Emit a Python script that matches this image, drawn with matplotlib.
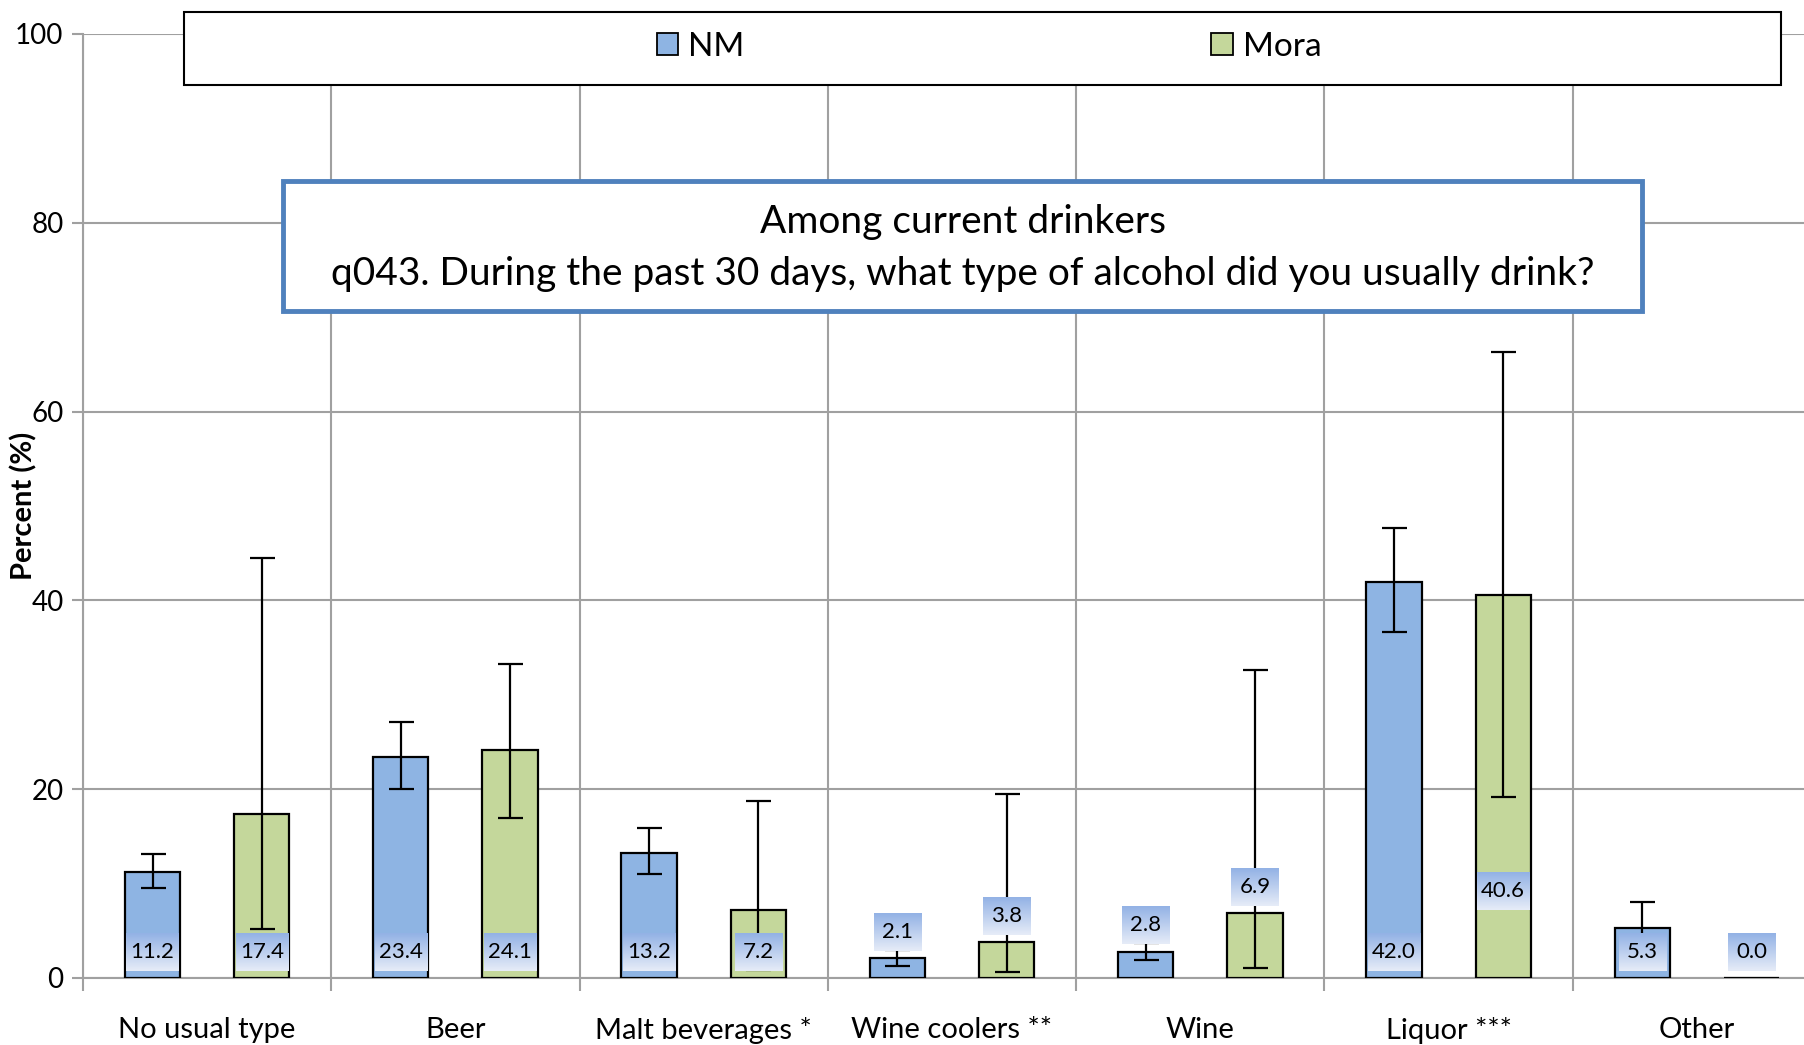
import numpy as np
import matplotlib
matplotlib.use("Agg")
import matplotlib.pyplot as plt
from matplotlib.patches import Rectangle

plt.rcParams['font.family'] = ['Lato', 'DejaVu Sans']

# data
categories = ["No usual type", "Beer", "Malt beverages *", "Wine coolers **",
              "Wine", "Liquor ***", "Other"]
nm = [11.2, 23.4, 13.2, 2.1, 2.8, 42.0, 5.3]
nm_lo = [9.5, 20.0, 11.0, 1.3, 1.9, 36.6, 2.6]
nm_hi = [13.1, 27.1, 15.9, 3.0, 3.7, 47.7, 8.0]
mora = [17.4, 24.1, 7.2, 3.8, 6.9, 40.6, 0.0]
mora_lo = [5.2, 16.9, 0.9, 0.6, 1.1, 19.2, 0.0]
mora_hi = [44.5, 33.3, 18.8, 19.5, 32.6, 66.3, 0.0]

# where each data label box sits (y centre, in percent units)
nm_lab_y = [2.75, 2.75, 2.75, 4.9, 5.6, 2.75, 2.75]
mora_lab_y = [2.75, 2.75, 2.75, 6.6, 9.6, 9.2, 2.75]

c_nm = "#8eb4e3"
c_mora = "#c4d79b"
grid_c = "#a0a0a0"

W, H = 1804, 1045
fig = plt.figure(figsize=(W / 100, H / 100), dpi=100)
# plot area runs off the right edge like in the reference
ax = fig.add_axes([83 / W, (H - 978) / H, (1821 - 83) / W, (978 - 34) / H])

x = np.arange(len(categories))
off = 0.22
bw = 0.223

def draw_series(xpos, vals, lo, hi, color, lab_y):
    vals = np.array(vals)
    ax.bar(xpos, vals, bw, color=color, edgecolor="black", linewidth=1.6, zorder=3)
    yerr = np.array([vals - np.array(lo), np.array(hi) - vals])
    mask = np.array(hi) > 0
    ax.errorbar(xpos[mask], vals[mask], yerr=yerr[:, mask], fmt="none",
                ecolor="black", elinewidth=1.6, capsize=9, capthick=1.6, zorder=4)
    grad = np.linspace(0, 1, 64).reshape(-1, 1)
    cmap = matplotlib.colors.LinearSegmentedColormap.from_list(
        "lab", ["#93b2e5", "#e6ecf8"])
    for xi, v, ly in zip(xpos, vals, lab_y):
        txt = f"{v:.1f}"
        hw = 0.105 if len(txt) > 3 else 0.095
        hh = 2.0
        ax.imshow(grad, cmap=cmap, extent=(xi - hw, xi + hw, ly - hh, ly + hh),
                  aspect="auto", interpolation="bilinear", zorder=5)
        ax.text(xi, ly, txt, ha="center", va="center", fontsize=16, zorder=6)

draw_series(x - off, nm, nm_lo, nm_hi, c_nm, nm_lab_y)
draw_series(x + off, mora, mora_lo, mora_hi, c_mora, mora_lab_y)

ax.set_xlim(-0.5, len(categories) - 0.5)
ax.set_ylim(0, 100)
ax.set_yticks(range(0, 101, 20))
ax.set_xticks(x)
ax.set_xticklabels(categories, fontsize=21)
ax.set_xticks(np.arange(-0.5, len(categories), 1.0), minor=True)
ax.tick_params(axis="x", which="major", length=0, pad=28)
ax.tick_params(axis="x", which="minor", length=9, color=grid_c, width=1.5)
ax.tick_params(axis="y", length=8, color=grid_c, width=1.5, labelsize=20, pad=6)
ax.grid(axis="y", color=grid_c, linewidth=1.5, zorder=0)
ax.grid(axis="x", which="minor", color=grid_c, linewidth=1.5, zorder=0)
ax.set_axisbelow(True)
for s in ["top", "right"]:
    ax.spines[s].set_visible(False)
for s in ["left", "bottom"]:
    ax.spines[s].set_color(grid_c)
    ax.spines[s].set_linewidth(1.5)
ax.set_ylabel("Percent (%)", fontsize=21, fontweight="bold")
ax.yaxis.set_label_coords(-0.0262, 0.5)

# legend box
fig.add_artist(Rectangle((184 / W, 1 - 85 / H), (1781 - 184) / W, (85 - 11.5) / H,
                         transform=fig.transFigure, facecolor="white",
                         edgecolor="black", linewidth=1.5, zorder=1))
handles = [Rectangle((0, 0), 1, 1, facecolor=c_nm, edgecolor="black", linewidth=1.3),
           Rectangle((0, 0), 1, 1, facecolor=c_mora, edgecolor="black", linewidth=1.3)]
fig.legend(handles, ["NM", "Mora"], loc="center", ncol=2,
           bbox_to_anchor=(989 / W, 1 - 47 / H), frameon=False, fontsize=24,
           handlelength=0.65, handleheight=0.65, handletextpad=0.3,
           columnspacing=14.0)

# title box
fig.add_artist(Rectangle((283 / W, 1 - 311 / H), (1642 - 283) / W, (311 - 181) / H,
                         transform=fig.transFigure, facecolor="white",
                         edgecolor="#4f81bd", linewidth=3.5, zorder=1))
fig.text(963 / W, 1 - 248 / H,
         "Among current drinkers\nq043. During the past 30 days, what type of alcohol did you usually drink?",
         ha="center", va="center", fontsize=28, linespacing=1.56, zorder=2)

fig.savefig("out.png", dpi=100)
